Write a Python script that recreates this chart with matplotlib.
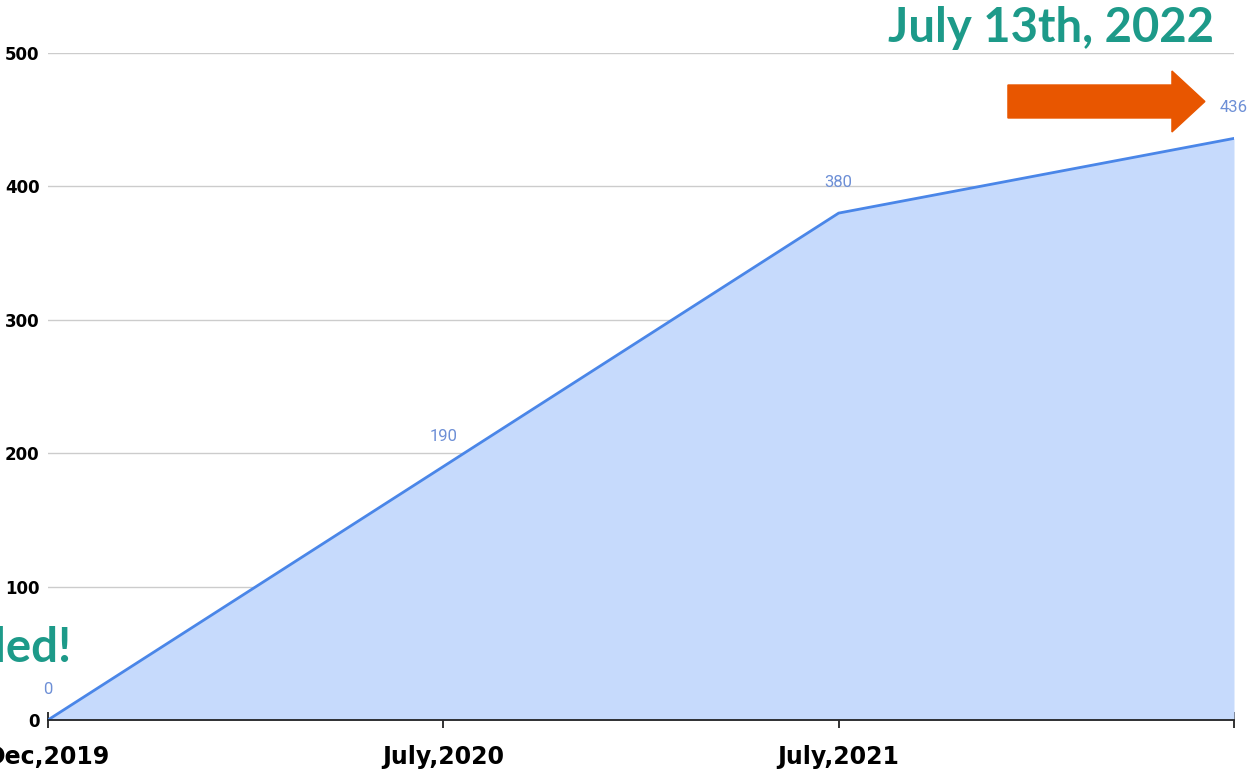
import matplotlib.pyplot as plt
import matplotlib.patches as mpatches

dates = ["Dec,2019", "July,2020", "July,2021", ""]
counts = [0, 190, 380, 436]
yticks = [0, 100, 200, 300, 400, 500]

teal = "#1d9a89"
line_blue = "#4a86e8"
fill_blue = "#c6dafc"
label_blue = "#6d8fd6"

fig = plt.figure(figsize=(12.49, 7.73), dpi=100)
ax = fig.add_axes([0.0384, 0.0686, 0.9496, 0.8628])

x = list(range(len(counts)))
ax.fill_between(x, counts, 0, color=fill_blue, lw=0)
ax.plot(x, counts, color=line_blue, lw=2)

# value labels above each point
for xi, v in zip(x, counts):
    ax.annotate(str(v), (xi, v), xytext=(0, 16.5), textcoords="offset points",
                ha="center", va="bottom", fontsize=12, color=label_blue,
                family="Roboto")

ax.set_xlim(0, 3)
ax.set_ylim(0, 500)
ax.set_yticks(yticks)
ax.set_xticks(x)
ax.set_xticklabels(dates, fontsize=17, fontweight="heavy")
ax.set_yticklabels([str(t) for t in yticks], fontsize=12, fontweight="heavy")
ax.grid(axis="y", color="#cccccc", lw=1)
ax.set_axisbelow(True)
for s in ["top", "right", "left"]:
    ax.spines[s].set_visible(False)
ax.spines["bottom"].set_color("#222222")
ax.spines["bottom"].set_linewidth(1.3)
ax.tick_params(axis="x", direction="inout", length=12, width=1.3,
               color="#222222", pad=12)
ax.tick_params(axis="y", length=0, pad=6)

# annotations around the chart
fig.text(0.711, 0.964, "July 13th, 2022", fontsize=34, fontweight="bold",
         family="Lato", color=teal, ha="left", va="center")
fig.text(-0.005, 0.162, "led!", fontsize=34, fontweight="bold",
         family="Lato", color=teal, ha="left", va="center")

arrow = mpatches.FancyArrow(0.807, 0.8687, 0.1577, 0, width=0.0427,
                            head_width=0.0789, head_length=0.0264,
                            length_includes_head=True, color="#e85600",
                            transform=fig.transFigure)
fig.patches.append(arrow)

fig.savefig("out.png", dpi=100)
